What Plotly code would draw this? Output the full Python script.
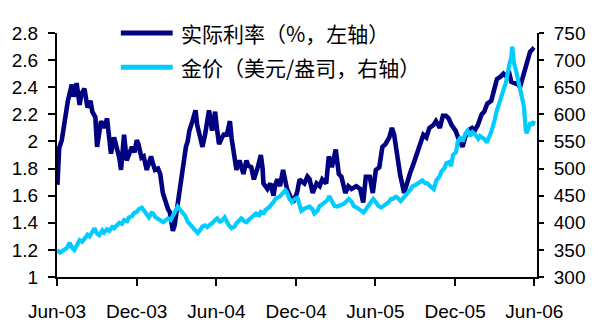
import plotly.graph_objects as go

# Real interest rate (%, left axis)
rate_dates = [
    "2003-06-02", "2003-06-06", "2003-06-12", "2003-06-19", "2003-06-26", "2003-07-05", "2003-07-09",
    "2003-07-16", "2003-07-23", "2003-07-27", "2003-08-03", "2003-08-10", "2003-08-17", "2003-08-21",
    "2003-08-28", "2003-09-01", "2003-09-06", "2003-09-10", "2003-09-17", "2003-09-24", "2003-09-28",
    "2003-10-03", "2003-10-10", "2003-10-17", "2003-10-22", "2003-10-26", "2003-11-02", "2003-11-08",
    "2003-11-15", "2003-11-20", "2003-11-26", "2003-12-01", "2003-12-05", "2003-12-12", "2003-12-17",
    "2003-12-24", "2003-12-30", "2004-01-03", "2004-01-08", "2004-01-12", "2004-01-19", "2004-01-24",
    "2004-01-30", "2004-02-06", "2004-02-11", "2004-02-15", "2004-02-20", "2004-02-22", "2004-02-26",
    "2004-02-29", "2004-03-04", "2004-03-09", "2004-03-16", "2004-03-23", "2004-03-27", "2004-03-31",
    "2004-04-07", "2004-04-14", "2004-04-18", "2004-04-23", "2004-04-30", "2004-05-06", "2004-05-11",
    "2004-05-15", "2004-05-22", "2004-05-29", "2004-06-02", "2004-06-07", "2004-06-14", "2004-06-18",
    "2004-06-25", "2004-07-02", "2004-07-06", "2004-07-11", "2004-07-17", "2004-07-24", "2004-07-28",
    "2004-08-02", "2004-08-09", "2004-08-13", "2004-08-20", "2004-08-26", "2004-09-04", "2004-09-11",
    "2004-09-15", "2004-09-17", "2004-09-26", "2004-10-03", "2004-10-10", "2004-10-14", "2004-10-19",
    "2004-10-25", "2004-11-01", "2004-11-06", "2004-11-10", "2004-11-17", "2004-11-24", "2004-12-03",
    "2004-12-09", "2004-12-16", "2004-12-20", "2004-12-27", "2005-01-01", "2005-01-08", "2005-01-17",
    "2005-01-24", "2005-01-30", "2005-02-08", "2005-02-14", "2005-02-21", "2005-03-02", "2005-03-09",
    "2005-03-15", "2005-03-24", "2005-03-31", "2005-04-07", "2005-04-18", "2005-04-27", "2005-05-04",
    "2005-05-10", "2005-05-19", "2005-05-26", "2005-06-02", "2005-06-10", "2005-06-17", "2005-06-24",
    "2005-07-03", "2005-07-09", "2005-07-14", "2005-07-21", "2005-07-28", "2005-08-06", "2005-08-12",
    "2005-08-19", "2005-08-28", "2005-09-04", "2005-09-10", "2005-09-19", "2005-09-26", "2005-10-03",
    "2005-10-12", "2005-10-18", "2005-10-27", "2005-11-03", "2005-11-10", "2005-11-16", "2005-11-23",
    "2005-12-02", "2005-12-09", "2005-12-18", "2005-12-24", "2005-12-31", "2006-01-09", "2006-01-15",
    "2006-01-22", "2006-01-31", "2006-02-06", "2006-02-13", "2006-02-22", "2006-02-28", "2006-03-07",
    "2006-03-16", "2006-03-22", "2006-03-29", "2006-04-03", "2006-04-09", "2006-04-18", "2006-04-25",
    "2006-04-29", "2006-05-06", "2006-05-13", "2006-05-17", "2006-05-22", "2006-05-28", "2006-05-31",
]
rate_values = [
    1.68, 1.95, 2.01, 2.17, 2.30, 2.42, 2.33,
    2.43, 2.27, 2.35, 2.39, 2.25, 2.30, 2.22,
    2.18, 1.96, 2.10, 2.15, 2.10, 2.17, 2.05,
    1.91, 2.03, 1.94, 1.88, 1.79, 2.05, 1.86,
    1.93, 1.96, 1.92, 2.01, 1.98, 1.88, 1.89,
    1.79, 1.85, 1.89, 1.83, 1.79, 1.80, 1.76,
    1.62, 1.53, 1.50, 1.48, 1.40, 1.34, 1.38,
    1.45, 1.55, 1.69, 1.84, 1.96, 2.00, 2.08,
    2.15, 2.23, 2.12, 2.05, 1.96, 2.05, 2.15,
    2.23, 2.08, 2.22, 2.10, 1.98, 2.03, 2.05,
    2.05, 2.15, 2.02, 1.89, 1.79, 1.86, 1.80,
    1.76, 1.86, 1.82, 1.81, 1.72, 1.81, 1.90,
    1.80, 1.69, 1.65, 1.69, 1.60, 1.68, 1.72,
    1.67, 1.79, 1.70, 1.65, 1.60, 1.55, 1.62,
    1.72, 1.70, 1.69, 1.74, 1.72, 1.62, 1.69,
    1.67, 1.72, 1.69, 1.89, 1.81, 1.94, 1.76,
    1.74, 1.62, 1.67, 1.65, 1.67, 1.65, 1.55,
    1.74, 1.74, 1.62, 1.79, 1.81, 1.96, 1.98,
    2.03, 2.10, 2.05, 1.90, 1.75, 1.62, 1.70,
    1.76, 1.84, 1.91, 1.97, 2.05, 2.03, 2.10,
    2.12, 2.15, 2.10, 2.19, 2.19, 2.17, 2.12,
    2.08, 2.02, 1.96, 2.03, 2.08, 2.10, 2.08,
    2.12, 2.20, 2.22, 2.28, 2.30, 2.37, 2.46,
    2.48, 2.50, 2.48, 2.52, 2.44, 2.43, 2.42,
    2.40, 2.48, 2.56, 2.62, 2.66, 2.68, 2.67,
]

# Gold price (USD/oz, right axis)
gold_dates = [
    "2003-06-02", "2003-06-08", "2003-06-12", "2003-06-19", "2003-06-24", "2003-06-30", "2003-07-05",
    "2003-07-11", "2003-07-16", "2003-07-23", "2003-07-29", "2003-08-03", "2003-08-10", "2003-08-15",
    "2003-08-21", "2003-08-26", "2003-09-01", "2003-09-06", "2003-09-13", "2003-09-17", "2003-09-24",
    "2003-09-29", "2003-10-06", "2003-10-10", "2003-10-17", "2003-10-22", "2003-10-28", "2003-11-02",
    "2003-11-09", "2003-11-13", "2003-11-20", "2003-11-25", "2003-12-01", "2003-12-06", "2003-12-13",
    "2003-12-17", "2003-12-24", "2003-12-29", "2004-01-04", "2004-01-08", "2004-01-13", "2004-01-19",
    "2004-01-26", "2004-01-31", "2004-02-06", "2004-02-11", "2004-02-17", "2004-02-22", "2004-02-29",
    "2004-03-04", "2004-03-09", "2004-03-16", "2004-03-22", "2004-03-27", "2004-04-03", "2004-04-07",
    "2004-04-14", "2004-04-19", "2004-04-23", "2004-04-30", "2004-05-06", "2004-05-11", "2004-05-18",
    "2004-05-22", "2004-05-29", "2004-06-03", "2004-06-09", "2004-06-14", "2004-06-20", "2004-06-25",
    "2004-06-29", "2004-07-06", "2004-07-13", "2004-07-17", "2004-07-24", "2004-07-28", "2004-08-04",
    "2004-08-09", "2004-08-15", "2004-08-20", "2004-08-26", "2004-08-31", "2004-09-07", "2004-09-11",
    "2004-09-18", "2004-09-22", "2004-09-29", "2004-10-03", "2004-10-10", "2004-10-14", "2004-10-21",
    "2004-10-25", "2004-11-01", "2004-11-06", "2004-11-10", "2004-11-15", "2004-11-21", "2004-11-28",
    "2004-12-04", "2004-12-09", "2004-12-13", "2004-12-20", "2004-12-27", "2005-01-01", "2005-01-08",
    "2005-01-12", "2005-01-19", "2005-01-24", "2005-01-30", "2005-02-04", "2005-02-11", "2005-02-15",
    "2005-02-22", "2005-02-27", "2005-03-05", "2005-03-09", "2005-03-16", "2005-03-21", "2005-03-27",
    "2005-04-01", "2005-04-08", "2005-04-12", "2005-04-19", "2005-04-24", "2005-04-30", "2005-05-05",
    "2005-05-11", "2005-05-16", "2005-05-23", "2005-05-27", "2005-06-03", "2005-06-08", "2005-06-14",
    "2005-06-19", "2005-06-25", "2005-06-30", "2005-07-07", "2005-07-11", "2005-07-18", "2005-07-22",
    "2005-07-29", "2005-08-03", "2005-08-10", "2005-08-14", "2005-08-21", "2005-08-25", "2005-09-01",
    "2005-09-06", "2005-09-12", "2005-09-17", "2005-09-23", "2005-09-28", "2005-10-04", "2005-10-08",
    "2005-10-13", "2005-10-19", "2005-10-26", "2005-10-31", "2005-11-06", "2005-11-11", "2005-11-17",
    "2005-11-22", "2005-11-26", "2005-12-03", "2005-12-07", "2005-12-14", "2005-12-18", "2005-12-25",
    "2005-12-30", "2006-01-05", "2006-01-10", "2006-01-16", "2006-01-23", "2006-01-27", "2006-02-03",
    "2006-02-08", "2006-02-12", "2006-02-19", "2006-02-23", "2006-03-02", "2006-03-06", "2006-03-13",
    "2006-03-19", "2006-03-24", "2006-03-28", "2006-04-04", "2006-04-09", "2006-04-11", "2006-04-15",
    "2006-04-20", "2006-04-26", "2006-05-03", "2006-05-08", "2006-05-12", "2006-05-14", "2006-05-19",
    "2006-05-23", "2006-05-28", "2006-05-31",
]
gold_values = [
    350, 345, 347, 350, 354, 363, 355,
    350, 358, 368, 365, 372, 378, 375,
    385, 390, 380, 377, 386, 382, 388,
    385, 392, 390, 396, 400, 398, 405,
    403, 410, 412, 418, 420, 425, 428,
    424, 414, 410, 418, 417, 410, 407,
    404, 401, 405, 408, 405, 413, 420,
    430, 425, 417, 412, 402, 396, 390,
    386, 381, 385, 393, 395, 392, 397,
    399, 405, 408, 402, 404, 410, 402,
    396, 390, 393, 399, 404, 408, 403,
    401, 406, 410, 413, 417, 414, 420,
    418, 424, 428, 431, 438, 444, 447,
    449, 455, 460, 456, 445, 438, 444,
    446, 432, 422, 426, 428, 430, 424,
    417, 422, 431, 434, 437, 442, 449,
    440, 431, 430, 431, 433, 435, 440,
    444, 438, 431, 428, 426, 422, 419,
    425, 431, 438, 444, 437, 431, 428,
    431, 433, 437, 444, 444, 448, 446,
    440, 444, 450, 455, 462, 467, 470,
    473, 476, 478, 473, 473, 468, 466,
    462, 478, 485, 495, 500, 510, 512,
    505, 525, 530, 550, 558, 550, 565,
    570, 560, 567, 563, 555, 560, 557,
    553, 548, 562, 570, 590, 605, 622,
    640, 648, 660, 690, 705, 725, 695,
    680, 660, 635, 615, 572, 565, 575,
    585, 580, 588,
]

series_names = ["实际利率（%，左轴）", "金价（美元/盎司，右轴）"]
series_colors = ["#000080", "#00CCFF"]

x_ticks = ["2003-06-01", "2003-12-01", "2004-06-01", "2004-12-01",
           "2005-06-01", "2005-12-01", "2006-06-01"]
x_range = ["2003-06-01", "2006-06-07"]
left_ticks = [1, 1.2, 1.4, 1.6, 1.8, 2, 2.2, 2.4, 2.6, 2.8]
right_ticks = [300, 350, 400, 450, 500, 550, 600, 650, 700, 750]

tick_font = dict(family="Liberation Sans, Arial, sans-serif", size=19, color="black")
cjk_font = dict(family="Noto Sans CJK SC, sans-serif", size=21, color="black")

fig = go.Figure()
fig.add_trace(go.Scatter(x=rate_dates, y=rate_values, mode="lines",
                         name=series_names[0], yaxis="y",
                         line=dict(color=series_colors[0], width=4.6)))
fig.add_trace(go.Scatter(x=gold_dates, y=gold_values, mode="lines",
                         name=series_names[1], yaxis="y2",
                         line=dict(color=series_colors[1], width=4.2)))

axis_common = dict(showgrid=False, zeroline=False, showline=True,
                   linecolor="black", linewidth=2, ticks="outside",
                   tickcolor="black", tickwidth=2, tickfont=tick_font)

fig.update_layout(
    width=598, height=334,
    margin=dict(l=52, r=56, t=33, b=51),
    paper_bgcolor="white", plot_bgcolor="white",
    showlegend=False,
    xaxis=dict(type="date", range=x_range, tickvals=x_ticks, tickformat="%b-%y",
               ticklen=7, ticklabelstandoff=9, **axis_common),
    yaxis=dict(range=[1, 2.8], tickvals=left_ticks,
               ticktext=[f"{v:g}" for v in left_ticks],
               ticklen=7, ticklabelstandoff=6, **axis_common),
    yaxis2=dict(range=[300, 750], tickvals=right_ticks, overlaying="y",
                side="right", ticklen=5, ticklabelstandoff=6, **axis_common),
)

# Hand-drawn legend: a thick line sample followed by the series name
legend_rows = [1.0, 0.86]
for name, color, ypos in zip(series_names, series_colors, legend_rows):
    fig.add_shape(type="line", xref="paper", yref="paper",
                  x0=0.133, x1=0.241, y0=ypos, y1=ypos,
                  line=dict(color=color, width=5))
    fig.add_annotation(xref="paper", yref="paper", x=0.255, y=ypos,
                       xanchor="left", yanchor="middle", text=name,
                       showarrow=False, font=cjk_font)

fig.write_html("out.html")
